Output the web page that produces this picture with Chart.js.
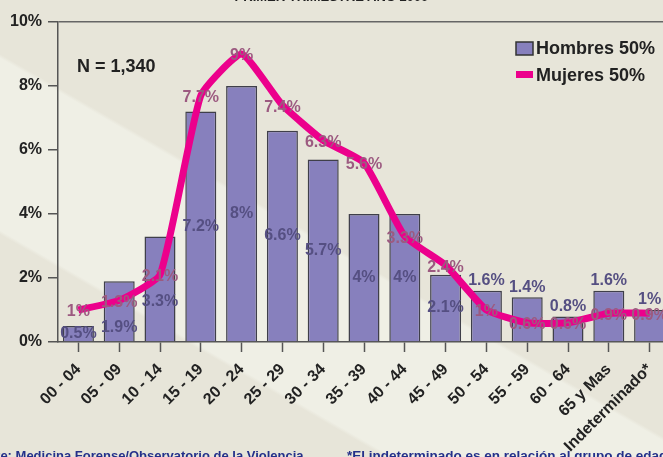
<!DOCTYPE html>
<html>
<head>
<meta charset="utf-8">
<script src="https://cdn.jsdelivr.net/npm/chart.js@4/dist/chart.umd.min.js"></script>
<style>
  body {
    margin: 0;
    width: 663px;
    height: 457px;
    overflow: hidden;
    font-family: "Liberation Sans", Arial, sans-serif;
    background: linear-gradient(210deg, #e7e5d9 0%, #e7e5d9 52%, #efefe5 52.5%, #efefe5 73%, #e7e5d9 73.5%, #e7e5d9 100%);
  }
  #wrap { position: relative; width: 672px; height: 457px; }
  .note { position: absolute; font-weight: bold; font-size: 13px; white-space: nowrap; }
  #title { top: -11px; left: 0; width: 663px; text-align: center; color: #222; }
  #source { top: 448px; left: -35px; color: #24308a; }
  #footnote { top: 448px; left: 347px; color: #24308a; font-size: 13.5px; }
</style>
</head>
<body>
<div id="wrap">
  <canvas id="ageChart"></canvas>
  <div class="note" id="title">PRIMER TRIMESTRE AÑO 2009</div>
  <div class="note" id="source">Fuente: Medicina Forense/Observatorio de la Violencia</div>
  <div class="note" id="footnote">*El indeterminado es en relación al grupo de edad</div>
</div>
<script>
const ageGroups = ['00 - 04', '05 - 09', '10 - 14', '15 - 19', '20 - 24', '25 - 29', '30 - 34', '35 - 39',
  '40 - 44', '45 - 49', '50 - 54', '55 - 59', '60 - 64', '65 y Mas', 'Indeterminado*'];
const hombres = [0.5, 1.9, 3.3, 7.2, 8, 6.6, 5.7, 4, 4, 2.1, 1.6, 1.4, 0.8, 1.6, 1];
const mujeres = [1, 1.3, 2.1, 7.7, 9, 7.4, 6.3, 5.6, 3.3, 2.4, 1, 0.6, 0.6, 0.9, 0.9];
const yTicks = [0, 2, 4, 6, 8, 10];
const totalN = '1,340';

const FONT = '"Liberation Sans", Arial, sans-serif';
const barColor = '#8780bd';
const lineColor = '#ec008c';

// value labels, legend and N drawn on top of the datasets
const labelPlugin = {
  id: 'valueLabels',
  afterDatasetsDraw(chart) {
    const ctx = chart.ctx;
    const bars = chart.getDatasetMeta(0).data;
    const points = chart.getDatasetMeta(1).data;
    ctx.save();
    ctx.font = 'bold 16px ' + FONT;
    ctx.textAlign = 'center';
    ctx.textBaseline = 'middle';

    bars.forEach((bar, i) => {
      const lineY = points[i].y;
      let y;
      if (mujeres[i] < hombres[i] && hombres[i] < 1.7) {
        y = bar.y - 10;
      } else {
        y = (bar.y + bar.base) / 2;
        if (Math.abs(y - lineY) < 22) y = lineY + 27;
      }
      ctx.fillStyle = '#554f82';
      ctx.fillText(hombres[i] + '%', bar.x, y);
    });

    points.forEach((pt, i) => {
      ctx.fillStyle = '#9c5a80';
      ctx.fillText(mujeres[i] + '%', pt.x, pt.y + 2);
    });

    // legend
    const ds = chart.data.datasets;
    ctx.textAlign = 'left';
    ctx.font = 'bold 18px ' + FONT;
    ctx.fillStyle = ds[0].backgroundColor;
    ctx.fillRect(516, 42, 17, 13);
    ctx.strokeStyle = '#333';
    ctx.lineWidth = 1.5;
    ctx.strokeRect(516, 42, 17, 13);
    ctx.fillStyle = ds[1].borderColor;
    ctx.fillRect(516, 71, 17, 7);
    ctx.fillStyle = '#222';
    ctx.fillText(ds[0].label, 536, 49);
    ctx.fillText(ds[1].label, 536, 76);

    ctx.fillText('N = ' + totalN, 77, 67);
    ctx.restore();
  }
};

const ctx = document.getElementById('ageChart').getContext('2d');
new Chart(ctx, {
  type: 'bar',
  data: {
    labels: ageGroups,
    datasets: [
      {
        type: 'bar',
        label: 'Hombres 50%',
        data: hombres,
        backgroundColor: barColor,
        borderColor: '#3f3f4a',
        borderWidth: 1.5,
        categoryPercentage: 1,
        barPercentage: 0.76,
        order: 2
      },
      {
        type: 'line',
        label: 'Mujeres 50%',
        data: mujeres,
        borderColor: lineColor,
        borderWidth: 7,
        pointRadius: 0,
        tension: 0.15,
        fill: false,
        order: 1
      }
    ]
  },
  options: {
    responsive: true,
    maintainAspectRatio: false,
    animation: false,
    layout: { padding: { top: 22, right: 2, left: 0, bottom: 0 } },
    plugins: {
      legend: { display: false },
      tooltip: { enabled: false }
    },
    scales: {
      x: {
        grid: { offset: false, drawOnChartArea: false, tickLength: 10, tickColor: '#555', tickWidth: 1.5 },
        border: { color: '#555', width: 1.5 },
        ticks: {
          autoSkip: false,
          maxRotation: 45,
          minRotation: 45,
          padding: 8,
          color: '#222',
          font: { family: FONT, size: 16, weight: 'bold' }
        },
        afterFit(scale) {
          scale.height = 115;
          scale.paddingLeft = 0;
          scale.paddingRight = 0;
        }
      },
      y: {
        min: yTicks[0],
        max: yTicks[yTicks.length - 1],
        ticks: {
          stepSize: 2,
          padding: 6,
          color: '#222',
          font: { family: FONT, size: 16, weight: 'bold' },
          callback: v => v + '%'
        },
        grid: {
          color: c => (c.tick && c.tick.value === 10 ? '#666' : 'transparent'),
          lineWidth: 1.5,
          tickColor: '#555',
          tickLength: 10
        },
        border: { color: '#555', width: 1.5 },
        afterFit(scale) {
          scale.width = 58;
        }
      }
    }
  },
  plugins: [labelPlugin]
});
</script>
</body>
</html>
